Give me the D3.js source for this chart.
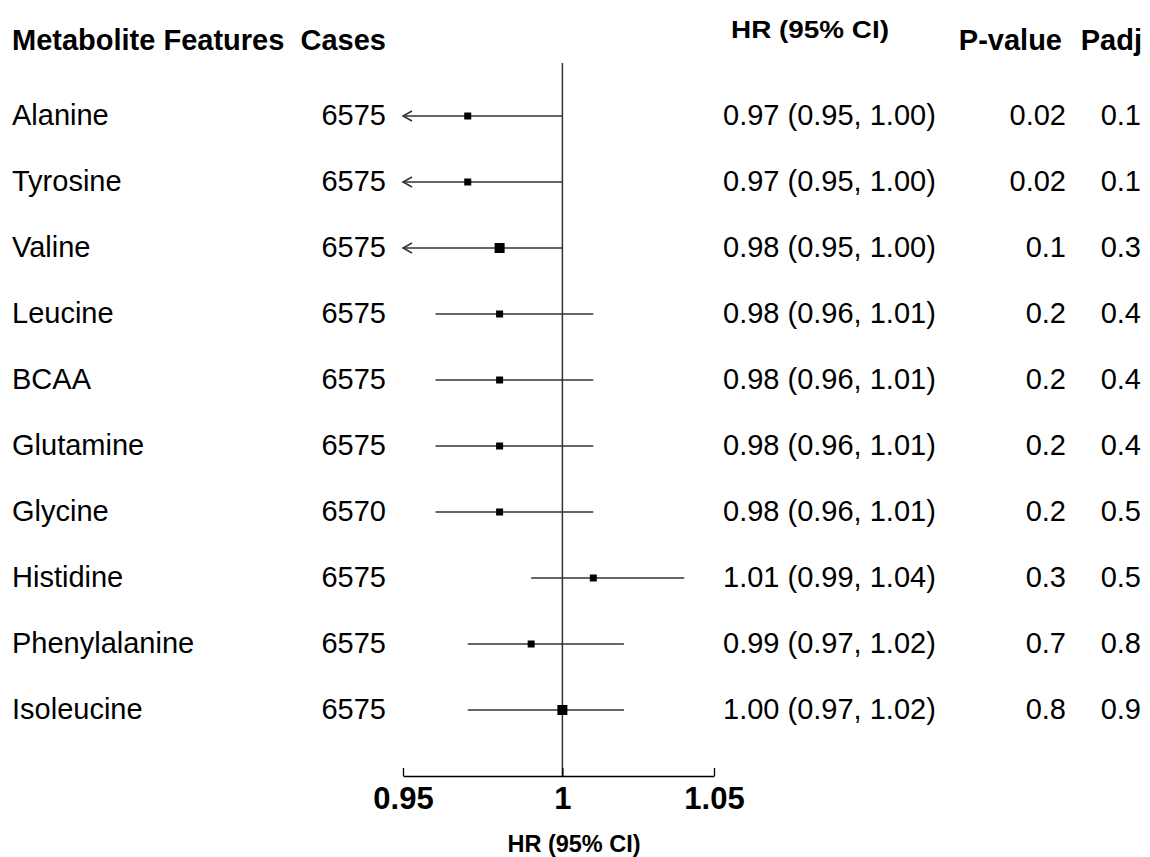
<!DOCTYPE html>
<html>
<head>
<meta charset="utf-8">
<script src="https://cdn.jsdelivr.net/npm/d3@7"></script>
<style>
  body { margin: 0; background: #fff; }
  svg text { font-family: "Liberation Sans", Arial, sans-serif; fill: #000; }
</style>
</head>
<body>
<div id="forest"></div>
<script>
// metabolite rows, top to bottom
var names = ["Alanine", "Tyrosine", "Valine", "Leucine", "BCAA", "Glutamine",
             "Glycine", "Histidine", "Phenylalanine", "Isoleucine"]
var cases = [6575, 6575, 6575, 6575, 6575, 6575, 6570, 6575, 6575, 6575]
var hr    = [0.97, 0.97, 0.98, 0.98, 0.98, 0.98, 0.98, 1.01, 0.99, 1.00]
var lower = [0.95, 0.95, 0.95, 0.96, 0.96, 0.96, 0.96, 0.99, 0.97, 0.97]
var upper = [1.00, 1.00, 1.00, 1.01, 1.01, 1.01, 1.01, 1.04, 1.02, 1.02]
var pval  = ["0.02", "0.02", "0.1", "0.2", "0.2", "0.2", "0.2", "0.3", "0.7", "0.8"]
var padj  = ["0.1", "0.1", "0.3", "0.4", "0.4", "0.4", "0.5", "0.5", "0.8", "0.9"]
// relative box weight
var weight = [1, 1, 1.5, 1, 1, 1, 1, 1, 1, 1.5]

var tickVals = [0.95, 1, 1.05]

let width = 1150
let height = 857

var svg = d3.select("#forest")
    .append("svg")
    .attr("width", width)
    .attr("height", height)

var xScale = d3.scaleLog()
    .domain([0.95, 1.05])
    .range([403, 714])

var yScale = d3.scalePoint()
    .domain(names)
    .range([116, 710])

var boxSize = d3.scaleLinear().domain([1, 1.5]).range([7, 10])

var bodyFont = 29
var headFont = 29

// header row
svg.append("text")
    .attr("x", 12).attr("y", 50)
    .style("font-weight", "bold").style("font-size", headFont + "px")
    .text("Metabolite Features")
svg.append("text")
    .attr("x", 386).attr("y", 50)
    .attr("text-anchor", "end")
    .style("font-weight", "bold").style("font-size", headFont + "px")
    .text("Cases")
svg.append("text")
    .attr("x", 810).attr("y", 38)
    .attr("text-anchor", "middle")
    .style("font-weight", "bold").style("font-size", "24px")
    .attr("textLength", 158).attr("lengthAdjust", "spacingAndGlyphs")
    .text("HR (95% CI)")
svg.append("text")
    .attr("x", 1062).attr("y", 50)
    .attr("text-anchor", "end")
    .style("font-weight", "bold").style("font-size", headFont + "px")
    .text("P-value")
svg.append("text")
    .attr("x", 1142).attr("y", 50)
    .attr("text-anchor", "end")
    .style("font-weight", "bold").style("font-size", headFont + "px")
    .text("Padj")

// reference line at HR = 1
svg.append("line")
    .attr("x1", xScale(1)).attr("x2", xScale(1))
    .attr("y1", 63).attr("y2", 776)
    .style("stroke", "#333").style("stroke-width", 1.5)

var rows = svg.selectAll("g.row")
    .data(names)
    .enter()
    .append("g")
    .attr("class", "row")

var xMin = xScale.domain()[0]

rows.append("line")
    .attr("x1", function(d, i){ return xScale(Math.max(lower[i], xMin)) })
    .attr("x2", function(d, i){ return xScale(upper[i]) })
    .attr("y1", function(d){ return yScale(d) })
    .attr("y2", function(d){ return yScale(d) })
    .style("stroke", "#333").style("stroke-width", 1.5)

// open arrowheads where the interval runs past the axis
rows.filter(function(d, i){ return lower[i] <= xMin })
    .append("path")
    .attr("d", function(d){
        var x = xScale(xMin), y = yScale(d)
        return "M" + (x + 9) + "," + (y - 5) + "L" + x + "," + y + "L" + (x + 9) + "," + (y + 5)
    })
    .style("fill", "none").style("stroke", "#333").style("stroke-width", 1.5)

rows.append("rect")
    .attr("x", function(d, i){ return xScale(hr[i]) - boxSize(weight[i]) / 2 })
    .attr("y", function(d, i){ return yScale(d) - boxSize(weight[i]) / 2 })
    .attr("width", function(d, i){ return boxSize(weight[i]) })
    .attr("height", function(d, i){ return boxSize(weight[i]) })
    .style("fill", "#000")

// table text
function rowText(x, anchor, fn){
    rows.append("text")
        .attr("x", x)
        .attr("y", function(d){ return yScale(d) + 9 })
        .attr("text-anchor", anchor)
        .style("font-size", bodyFont + "px")
        .text(fn)
}
rowText(12, "start", function(d){ return d })
rowText(386, "end", function(d, i){ return cases[i] })
rowText(723, "start", function(d, i){
    return hr[i].toFixed(2) + " (" + lower[i].toFixed(2) + ", " + upper[i].toFixed(2) + ")"
})
rowText(1066, "end", function(d, i){ return pval[i] })
rowText(1141, "end", function(d, i){ return padj[i] })

// x axis
var xAxis = d3.axisBottom(xScale)
    .tickValues(tickVals)
    .tickFormat(d3.format("~g"))
    .tickSizeInner(-8)
    .tickSizeOuter(0)
    .tickPadding(11)

var axisG = svg.append("g")
    .attr("transform", "translate(0, 776)")
    .call(xAxis)
axisG.select(".domain").style("stroke", "#000").style("stroke-width", 1.3)
axisG.selectAll(".tick line").style("stroke", "#000").style("stroke-width", 1.3)
axisG.selectAll(".tick text")
    .style("font-family", "'Liberation Sans', Arial, sans-serif")
    .style("font-size", "31px")
    .style("font-weight", "bold")
    .style("fill", "#000")

svg.append("text")
    .attr("x", 574).attr("y", 852)
    .attr("text-anchor", "middle")
    .style("font-weight", "bold").style("font-size", "23.5px")
    .text("HR (95% CI)")
</script>
</body>
</html>
